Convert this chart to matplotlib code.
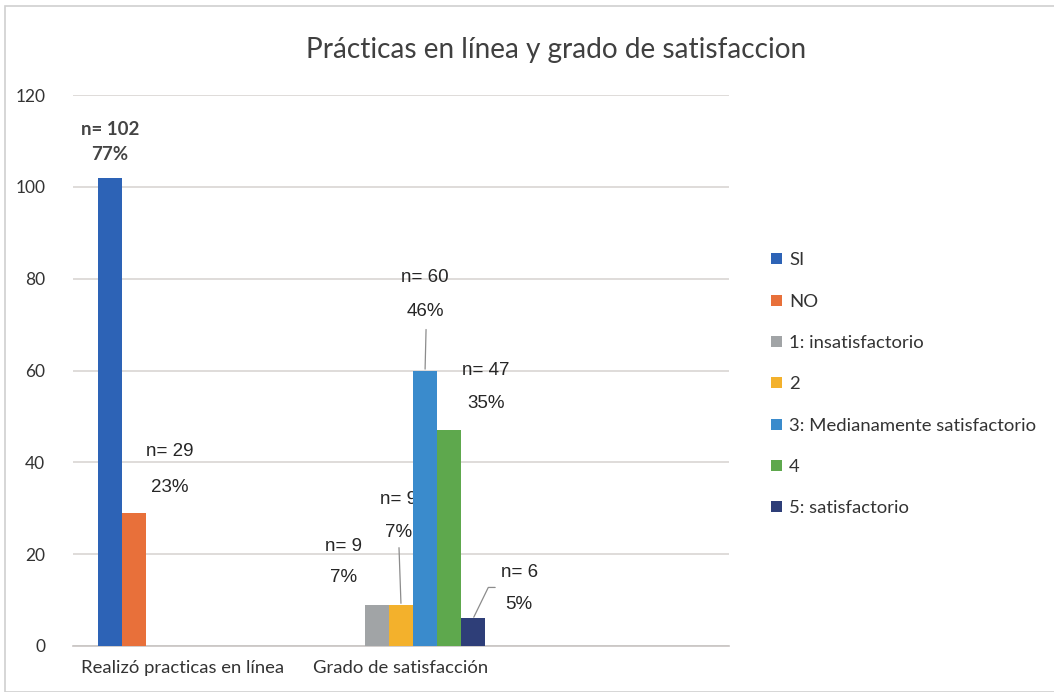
import numpy as np
import matplotlib
matplotlib.use("Agg")
from matplotlib import pyplot as plt
from matplotlib.patches import Rectangle

categories = ['Realizó practicas en línea', 'Grado de satisfacción', '']
series = ['SI', 'NO', '1: insatisfactorio', '2', '3: Medianamente satisfactorio', '4', '5: satisfactorio']
colors = ['#2D63B6', '#E8703A', '#A1A4A6', '#F3B12C', '#3A8BCC', '#5EA84D', '#2E3E78']
# value per series, per category (None = no bar)
values = [
    [102, None, None],
    [29, None, None],
    [None, 9, None],
    [None, 9, None],
    [None, 60, None],
    [None, 47, None],
    [None, 6, None],
]
n_labels = ['n= 102', 'n= 29', 'n= 9', 'n= 9', 'n= 60', 'n= 47', 'n= 6']
pct_labels = ['77%', '23%', '7%', '7%', '46%', '35%', '5%']

PX = 72 / 100  # pixels -> points
# label offsets from bar top centre, in pixels (n line, % line)
n_off = [(0, 48), (36, 61), (-33, 58), (-2, 105), (0, 93), (37, 60), (46, 46)]
p_off = [(0, 23), (36, 25), (-33, 27), (-2, 72), (0, 59), (37, 27), (46, 14)]

fig = plt.figure(figsize=(10.54, 6.92), dpi=100)
ax = fig.add_axes([73 / 1054, 1 - 646 / 692, 656 / 1054, 551 / 692])

w = 0.11
x = np.arange(len(categories))
for i, s in enumerate(series):
    for j, v in enumerate(values[i]):
        if v is None:
            continue
        xb = x[j] + (i - 3) * w
        ax.bar(xb, v, width=w, color=colors[i], label=s, zorder=3)
        # first label is in the chart's Calibri-like font, the rest Arial-like
        if i == 0:
            fkw = dict(family='Lato', fontweight='bold', fontsize=13.5, color='#444444')
        else:
            fkw = dict(family='Liberation Sans', fontsize=13.5, color='#262626')
        ax.annotate(n_labels[i], (xb, v), xytext=(n_off[i][0] * PX, n_off[i][1] * PX), textcoords='offset points',
                    ha='center', va='center', **fkw)
        ax.annotate(pct_labels[i], (xb, v), xytext=(p_off[i][0] * PX, p_off[i][1] * PX), textcoords='offset points',
                    ha='center', va='center', **fkw)

# leader lines
lead = dict(arrowstyle='-', color='#8c8c8c', lw=0.9, shrinkA=0, shrinkB=1)
ax.annotate('', (x[1] + 0 * w, 9), xytext=(-2 * PX, 57 * PX), textcoords='offset points', arrowprops=lead)
ax.annotate('', (x[1] + 1 * w, 60), xytext=(1 * PX, 41 * PX), textcoords='offset points', arrowprops=lead)
ax.annotate('', (x[1] + 3 * w, 6), xytext=(22 * PX, 31 * PX), textcoords='offset points',
            arrowprops=dict(lead, connectionstyle='angle,angleA=0,angleB=64,rad=0'))

ax.set_xlim(-0.5, 2.5)
ax.set_ylim(0, 120)
ax.set_yticks(np.arange(0, 121, 20))
ax.set_xticks(x[:2])
ax.set_xticklabels(categories[:2], fontsize=13.3, color='#333333', family='Lato')
ax.tick_params(axis='y', labelsize=12.5, labelcolor='#333333', length=0, pad=20)
ax.tick_params(axis='x', length=0, pad=10)
for lbl in ax.get_yticklabels():
    lbl.set_family('Lato')
ax.grid(axis='y', color='#d9d5d3', lw=1.2, zorder=0)
for sp in ['top', 'right', 'left']:
    ax.spines[sp].set_visible(False)
ax.spines['bottom'].set_color('#c8c4c2')
ax.spines['bottom'].set_linewidth(1.2)

fig.text(556 / 1054, 1 - 50 / 692, 'Prácticas en línea y grado de satisfaccion', ha='center', va='center',
         fontsize=20.2, color='#404040', family='Lato')

handles, labels = ax.get_legend_handles_labels()
fig.legend(handles, labels, loc='upper left', bbox_to_anchor=(764 / 1054, 1 - 245 / 692), frameon=False,
           labelcolor='#333333', prop={'family': 'Lato', 'size': 13.3},
           handlelength=0.55, handleheight=0.55, handletextpad=0.4, labelspacing=1.37, borderaxespad=0)

fig.patches.append(Rectangle((5 / 1054, 0.0), 1, 1 - 6 / 692, transform=fig.transFigure, fill=False,
                             edgecolor='#d0d0d0', lw=1.2))

fig.savefig('out.png', dpi=100)
